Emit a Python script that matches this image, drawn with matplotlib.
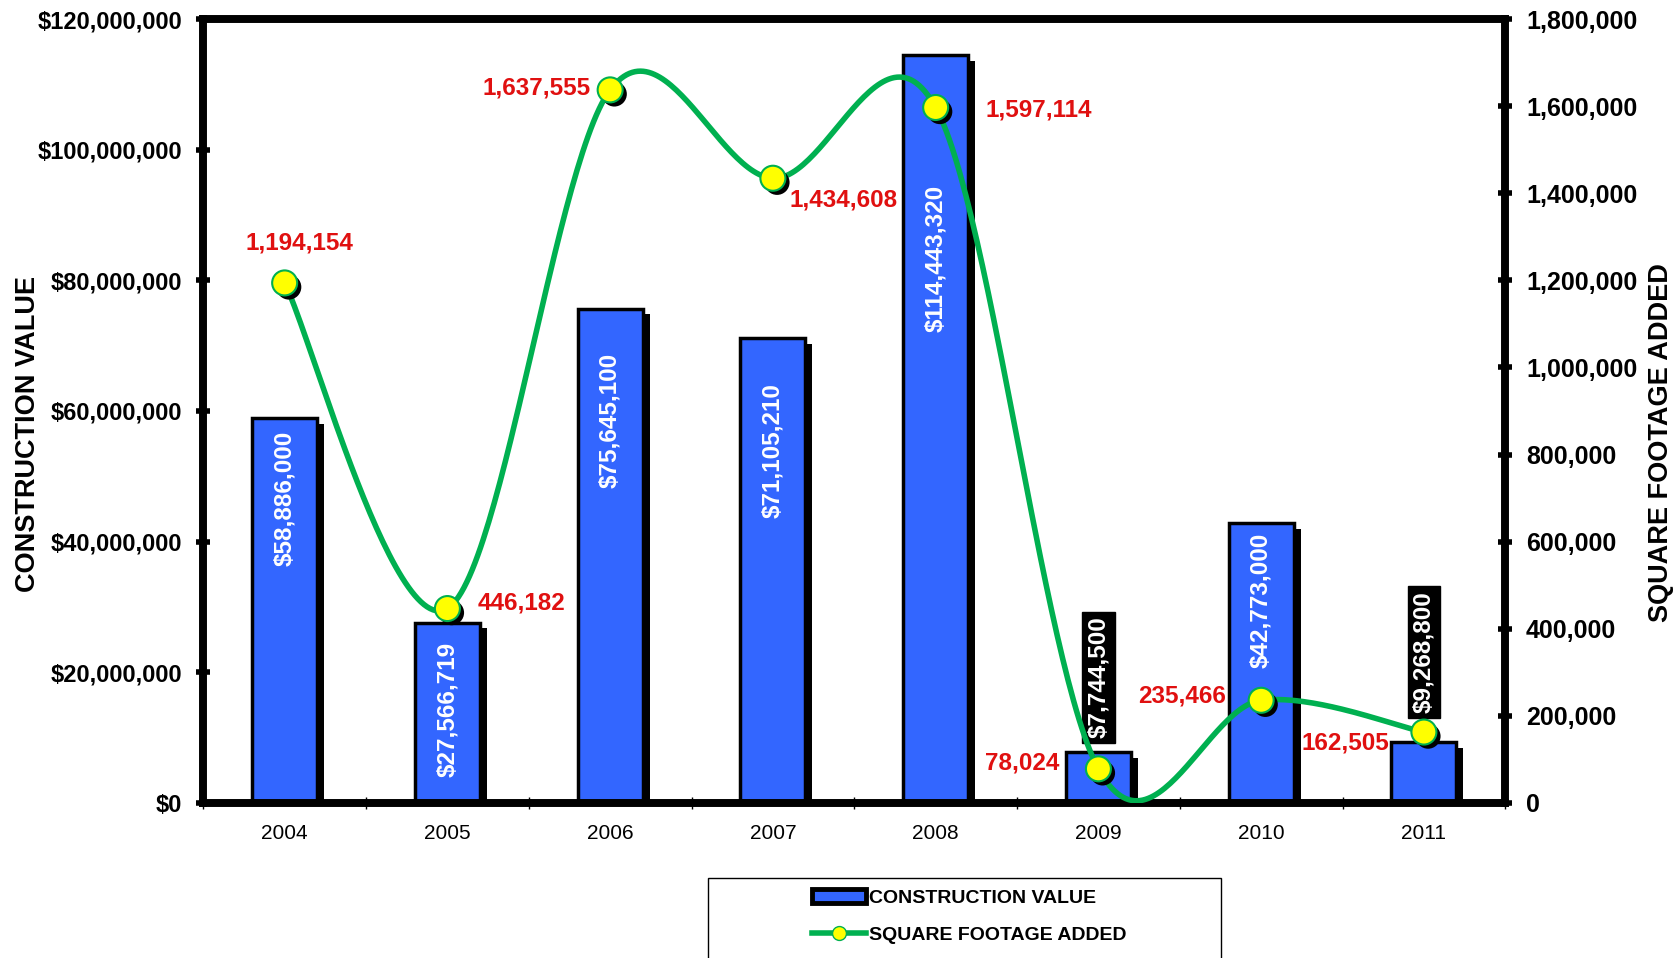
import matplotlib
matplotlib.use("Agg")
import matplotlib.pyplot as plt
import matplotlib.patheffects as pe
from matplotlib.patches import Patch, Rectangle
from matplotlib.lines import Line2D
from matplotlib.ticker import FuncFormatter, MultipleLocator, FixedLocator
import numpy as np

plt.rcParams['font.family'] = ['Liberation Sans', 'DejaVu Sans']

years = ['2004', '2005', '2006', '2007', '2008', '2009', '2010', '2011']
construction_value = [58886000, 27566719, 75645100, 71105210, 114443320, 7744500, 42773000, 9268800]
square_footage = [1194154, 446182, 1637555, 1434608, 1597114, 78024, 235466, 162505]

# label placement (points): inside-bar labels offset from bar top, outside ones boxed
bar_label_offset = [9, 14, 32, 32, 93, 6, 7, 17]
bar_label_outside = [False, False, False, False, False, True, False, True]
sq_label_offset = [(11, 29), (22, 4), (-14, 1), (12, -16), (36, -2), (-28, 4), (-25, 3), (-25, -8)]
sq_label_ha = ['center', 'left', 'right', 'left', 'left', 'right', 'right', 'right']

BLUE = '#3366FF'
GREEN = '#00B050'
RED = '#E01010'


def smooth(xs, ys, n=60):
    # excel-like smoothed line (catmull-rom as cubic bezier)
    xs = np.asarray(xs, float)
    ys = np.asarray(ys, float)
    m = len(xs)
    ox, oy = [], []
    t = np.linspace(0, 1, n)
    for i in range(m - 1):
        i0 = max(i - 1, 0)
        i3 = min(i + 2, m - 1)
        p1 = np.array([xs[i], ys[i]])
        p2 = np.array([xs[i + 1], ys[i + 1]])
        c1 = p1 + (p2 - np.array([xs[i0], ys[i0]])) / 6
        c2 = p2 - (np.array([xs[i3], ys[i3]]) - p1) / 6
        b = ((1 - t) ** 3)[:, None] * p1 + (3 * (1 - t) ** 2 * t)[:, None] * c1 \
            + (3 * (1 - t) * t ** 2)[:, None] * c2 + (t ** 3)[:, None] * p2
        ox.extend(b[:, 0])
        oy.extend(b[:, 1])
    return ox, oy


fig = plt.figure(figsize=(16.8, 9.58), dpi=100)
ax = fig.add_axes([0.121, 0.162, 0.775, 0.818])
ax2 = ax.twinx()

x = np.arange(len(years))
bars = ax.bar(x, construction_value, width=0.4, color=BLUE, edgecolor='black', linewidth=2.5, zorder=2)
for b in bars:
    b.set_path_effects([pe.SimplePatchShadow(offset=(5, -4), shadow_rgbFace='black', alpha=1), pe.Normal()])

for i, v in enumerate(construction_value):
    txt = '${:,.0f}'.format(v)
    if bar_label_outside[i]:
        ax.annotate(txt, (x[i], v), xytext=(0, bar_label_offset[i] + 4), textcoords='offset points',
                    rotation=90, ha='center', va='bottom', color='white', fontsize=17.5, fontweight='bold',
                    bbox=dict(boxstyle='square,pad=0.2', fc='black', ec='black'), zorder=5)
    else:
        ax.annotate(txt, (x[i], v), xytext=(0, -bar_label_offset[i]), textcoords='offset points',
                    rotation=90, ha='center', va='top', color='white', fontsize=17.5, fontweight='bold', zorder=5)

ax.set_xlim(-0.5, len(years) - 0.5)
ax.set_ylim(0, 120000000)
ax.yaxis.set_major_locator(MultipleLocator(20000000))
ax.yaxis.set_major_formatter(FuncFormatter(lambda v, p: '${:,.0f}'.format(v)))
ax.set_xticks(x)
ax.set_xticklabels(years)
ax.xaxis.set_minor_locator(FixedLocator(np.arange(-0.5, len(years), 1.0)))
ax.tick_params(axis='x', which='major', length=0, pad=15, labelsize=15)
ax.tick_params(axis='x', which='minor', length=9, width=1, direction='inout')
ax.tick_params(axis='y', which='major', length=10, width=4, direction='inout', pad=10, labelsize=17)
for lab in ax.get_yticklabels():
    lab.set_fontweight('bold')
ax.set_ylabel('CONSTRUCTION VALUE', fontsize=19.5, fontweight='bold')
ax.yaxis.set_label_coords(-0.125, 0.47)

sx, sy = smooth(x, square_footage)
ax2.plot(sx, sy, color=GREEN, linewidth=4, zorder=3, solid_capstyle='round')
ax2.plot(x, square_footage, linestyle='none', marker='o', markersize=18, markerfacecolor='#FFFF00',
         markeredgecolor=GREEN, markeredgewidth=1.5, zorder=4,
         path_effects=[pe.SimplePatchShadow(offset=(3, -3), shadow_rgbFace='black', alpha=1), pe.Normal()])
for i, v in enumerate(square_footage):
    ax2.annotate('{:,.0f}'.format(v), (x[i], v), xytext=sq_label_offset[i], textcoords='offset points',
                 ha=sq_label_ha[i], va='center', color=RED, fontsize=17.5, fontweight='bold', zorder=6)

ax2.set_ylim(0, 1800000)
ax2.yaxis.set_major_locator(MultipleLocator(200000))
ax2.yaxis.set_major_formatter(FuncFormatter(lambda v, p: '{:,.0f}'.format(v)))
ax2.tick_params(axis='y', which='major', length=10, width=4, direction='inout', pad=10, labelsize=18)
for lab in ax2.get_yticklabels():
    lab.set_fontweight('bold')
ax2.set_ylabel('SQUARE FOOTAGE ADDED', fontsize=19.5, fontweight='bold', rotation=90)
ax2.yaxis.set_label_coords(1.11, 0.46)

for a in (ax, ax2):
    for s in a.spines.values():
        s.set_linewidth(5.5)
        s.set_color('black')

# legend with its own frame
fig.patches.append(Rectangle((0.4217, -0.01), 0.305, 0.094, transform=fig.transFigure,
                             fill=False, edgecolor='black', linewidth=1))
handles = [Patch(facecolor=BLUE, edgecolor='black', linewidth=3.5),
           Line2D([], [], color=GREEN, linewidth=4, marker='o', markersize=10,
                  markerfacecolor='#FFFF00', markeredgecolor=GREEN)]
fig.legend(handles, ['CONSTRUCTION VALUE', 'SQUARE FOOTAGE ADDED'], loc='center',
           bbox_to_anchor=(0.577, 0.043), frameon=False, prop={'size': 14, 'weight': 'bold'},
           handlelength=2.8, handletextpad=0.15, labelspacing=1.0)

fig.savefig('out.png', dpi=100)
